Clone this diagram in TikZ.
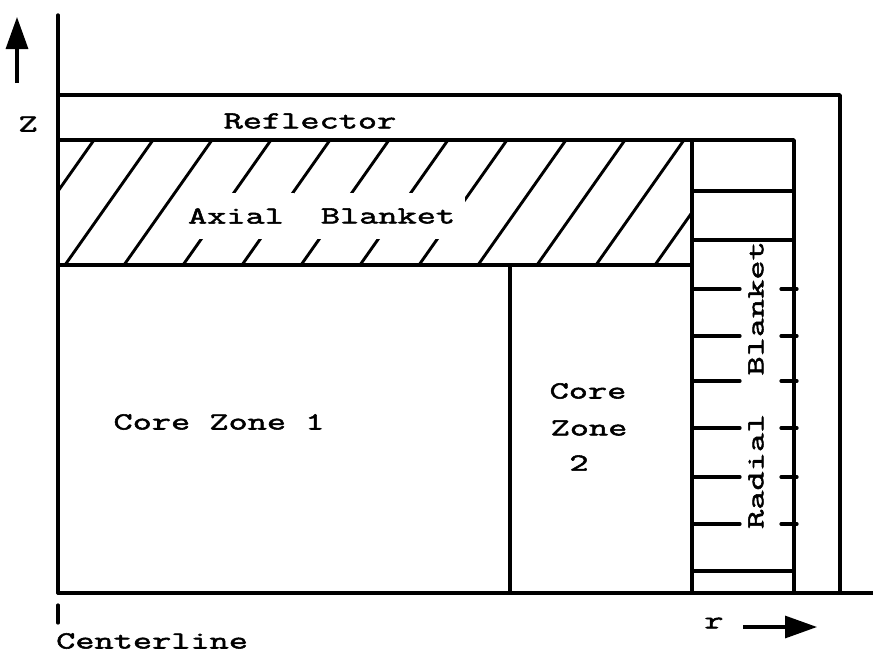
\documentclass[tikz,border=0pt]{standalone}
\usepackage{fontspec}
\usetikzlibrary{arrows.meta}
\newfontfamily\tw{Latin Modern Mono}[FakeStretch=1.52,FakeBold=2.2]
\tikzset{
  main/.style={line width=3.4pt, line cap=round, line join=round},
  hatchline/.style={line width=2.9pt, line cap=round},
  tick/.style={line width=3.2pt, line cap=round},
  lbl/.style={font=\tw\fontsize{24.5}{28}\selectfont, inner sep=0pt},
  mask/.style={lbl, fill=white, inner xsep=10pt, minimum height=46pt},
  arr/.style={line width=3.2pt, -{Triangle[length=32pt,width=22pt]}},
}
\begin{document}
\begin{tikzpicture}[x=1pt,y=-1pt]
\useasboundingbox (0,0) rectangle (873,659);
% key coordinates
\coordinate (axtop) at (58,15);
\coordinate (axbot) at (58,593);
% hatching in axial blanket
\begin{scope}
  \clip (58,140) rectangle (692,265);
  \foreach \k in {-1,...,11}{
    \pgfmathsetmacro{\xb}{65+59*\k}
    \draw[hatchline] (\xb,265) -- (\xb+88,140);
  }
\end{scope}
% masks + labels in axial blanket
\node[mask] (axial) at (236,216) {Axial};
\node[mask] (blanket) at (388,216) {Blanket};
% outline
\draw[main] (axtop) -- (axbot);
\draw[main] (58,593) -- (873,593);
\draw[main] (58,95) -- (840,95) -- (840,593);
\draw[main] (58,140) -- (794,140) -- (794,593);
\draw[main] (58,265) -- (692,265);
\draw[main] (692,140) -- (692,593);
\draw[main] (510,265) -- (510,593);
% radial blanket lines
\foreach \y in {191,240,571}{ \draw[main] (692,\y) -- (794,\y); }
\foreach \y in {289,336,381,428,477,524}{
  \draw[tick] (693,\y) -- (740,\y);
  \draw[tick] (781,\y) -- (797,\y);
}
% labels
\node[lbl] (refl) at (310,121) {Reflector};
\node[lbl] (cz1) at (219,422) {Core Zone 1};
\node[lbl] (core2) at (588,391) {Core};
\node[lbl] (zone2) at (589,428) {Zone};
\node[lbl] (two) at (579,463) {2};
\node[lbl, rotate=90] (radial) at (756,385) {Radial\ \ Blanket};
\node[lbl] (zlab) at (28,124) {Z};
\node[lbl, anchor=west] (cline) at (56,641) {Centerline};
\node[lbl] (rlab) at (714,623) {r};
% centerline tick
\coordinate (ct1) at (58,605);
\coordinate (ct2) at (58,623);
\draw[tick] (ct1) -- (ct2);
% axis arrows
\coordinate (za) at (17,83);
\coordinate (zb) at (17,17);
\draw[arr] (za) -- (zb);
\coordinate (ra) at (743,627);
\coordinate (rb) at (817,627);
\draw[arr] (ra) -- (rb);
\end{tikzpicture}
\end{document}
